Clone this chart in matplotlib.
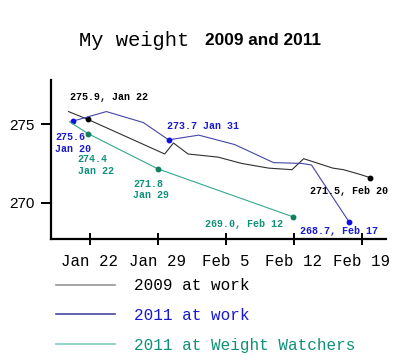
import matplotlib.pyplot as plt
from matplotlib.lines import Line2D

# day numbers (Jan 1 = 1, so Feb 5 = 36)
days_2009 = [19.8, 21.8, 29.7, 30.6, 32.1, 35.2, 37.6, 40.4, 42.8, 44.0, 45.0, 47.0, 48.1, 49.8, 50.8]
w_2009 = [275.8, 275.3, 273.1, 273.8, 273.1, 272.9, 272.5, 272.2, 272.1, 272.8, 272.6, 272.2, 272.1, 271.8, 271.6]
dots_2009 = [1, 14]

days_2011 = [20.3, 23.7, 27.5, 30.1, 33.2, 36.9, 40.9, 43.8, 44.8, 48.7]
w_2011 = [275.2, 275.8, 275.1, 274.0, 274.3, 273.7, 272.55, 272.5, 272.4, 268.75]
dots_2011 = [0, 3, 9]

days_ww = [19.9, 21.8, 29.0, 42.9]
w_ww = [275.15, 274.4, 272.15, 269.1]
dots_ww = [1, 2, 3]

tick_days = [22, 29, 36, 43, 50]
tick_labels = ["Jan 22", "Jan 29", "Feb 5", "Feb 12", "Feb 19"]

legend_labels = ["2009 at work", "2011 at work", "2011 at Weight Watchers"]
legend_line_colors = ["#959595", "#4848a0", "#80ccc4"]
legend_text_colors = ["black", "#1818d0", "#109078"]

mono = "Liberation Mono"
c09, c11, cww = "#303030", "#4545a8", "#35a890"
lbl_blue, lbl_teal = "#1a1ad0", "#10907a"

fig = plt.figure(figsize=(4, 3.61), dpi=100)
ax = fig.add_axes([0.1275, 0.338, 0.8375, 0.44])

ax.plot(days_2009, w_2009, color=c09, lw=0.8)
ax.plot([days_2009[i] for i in dots_2009], [w_2009[i] for i in dots_2009], "o", color="black", ms=3.2)
ax.plot(days_2011, w_2011, color=c11, lw=0.8)
ax.plot([days_2011[i] for i in dots_2011], [w_2011[i] for i in dots_2011], "o", color="#1010e0", ms=3.2)
ax.plot(days_ww, w_ww, color=cww, lw=0.8)
ax.plot([days_ww[i] for i in dots_ww], [w_ww[i] for i in dots_ww], "o", color="#108060", ms=3.2)

fs = 7.2
kw = dict(family=mono, fontsize=fs, fontweight="bold", va="center", ha="left")
ax.text(19.94, 276.74, "275.9, Jan 22", color="black", **kw)
ax.text(18.4, 273.8, "275.6\nJan 20", color=lbl_blue, **kw)
ax.text(20.76, 272.39, "274.4\nJan 22", color=lbl_teal, **kw)
ax.text(26.43, 270.83, "271.8\nJan 29", color=lbl_teal, **kw)
ax.text(29.9, 274.87, "273.7 Jan 31", color=lbl_blue, **kw)
ax.text(33.84, 268.63, "269.0, Feb 12", color=lbl_teal, **kw)
ax.text(43.62, 268.18, "268.7, Feb 17", color=lbl_blue, **kw)
ax.text(44.65, 270.75, "271.5, Feb 20", color="black", **kw)

ax.set_xlim(18.0, 52.47)
ax.set_ylim(267.69, 277.8)
ax.set_xticks(tick_days)
ax.set_xticklabels(tick_labels, family=mono, fontsize=11.3)
ax.set_yticks([270, 275])
ax.set_yticklabels(["270", "275"], family="Liberation Sans", fontsize=11)
ax.spines[["top", "right"]].set_visible(False)
for s in ["left", "bottom"]:
    ax.spines[s].set_linewidth(1.6)
ax.tick_params(axis="x", direction="inout", length=8, width=1.4, pad=6.5)
ax.tick_params(axis="y", direction="out", length=7, width=1.4, pad=5)

fig.text(79 / 400, 0.889, "My weight", family=mono, fontsize=14.8, va="center", ha="left")
fig.text(205 / 400, 0.887, "2009 and 2011", family="Liberation Sans", fontsize=12.4,
         fontweight="bold", va="center", ha="left")

handles = [Line2D([], [], color=c, lw=1.2) for c in legend_line_colors]
leg = fig.legend(handles, legend_labels, loc="upper left", bbox_to_anchor=(0.14, 0.229),
                 frameon=False, prop={"family": mono, "size": 11.5}, borderpad=0,
                 borderaxespad=0, handlelength=3.7, handletextpad=1.2, labelspacing=0.92)
for t, c in zip(leg.get_texts(), legend_text_colors):
    t.set_color(c)

fig.savefig("out.png", dpi=100)
